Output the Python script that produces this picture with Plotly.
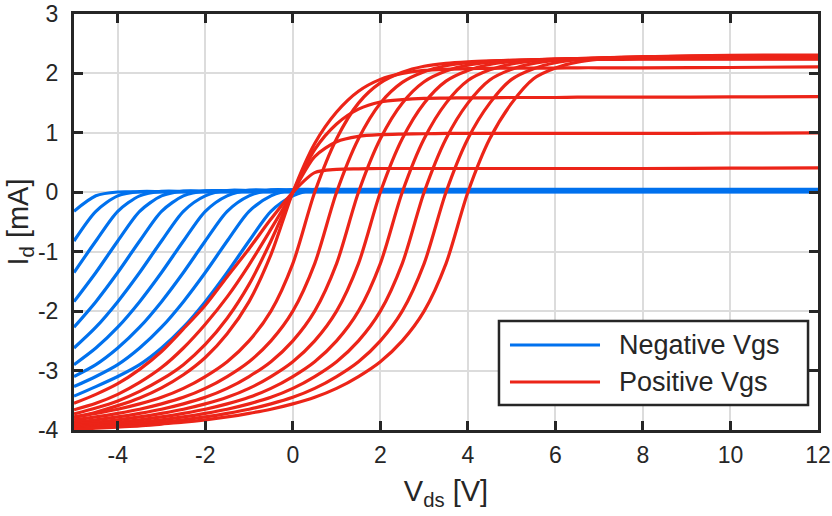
import plotly.graph_objects as go

# Drain voltage samples (V)
VDS_POS = [-5, -4.5, -4, -3.5, -3, -2.5, -2, -1.5, -1, -0.5, 0, 0.5, 1, 1.5, 2, 2.5,
           3, 3.5, 4, 4.5, 5, 5.5, 6, 6.5, 7, 7.5, 8, 10, 12]
VDS_NEG = [-5, -4.5, -4, -3.5, -3, -2.5, -2, -1.5, -1, -0.5, 0, 0.5, 1, 12]

# Drain current (mA) for the positive gate-voltage sweep
ID_POS_1 = [-3.55, -3.40, -3.22, -2.98, -2.68, -2.30, -1.90, -1.42, -0.95, -0.45, 0.00,
            0.33, 0.385, 0.395, 0.40, 0.40, 0.40, 0.40, 0.40, 0.40, 0.40, 0.40, 0.40,
            0.40, 0.40, 0.40, 0.40, 0.405, 0.41]
ID_POS_2 = [-3.66, -3.55, -3.40, -3.20, -2.95, -2.62, -2.22, -1.76, -1.22, -0.62, 0.00,
            0.60, 0.85, 0.94, 0.97, 0.98, 0.985, 0.99, 0.99, 0.99, 0.99, 0.99, 0.99,
            0.99, 0.99, 0.99, 0.99, 0.995, 1.0]
ID_POS_3 = [-3.73, -3.63, -3.51, -3.35, -3.15, -2.90, -2.56, -2.12, -1.55, -0.82, 0.00,
            0.72, 1.15, 1.40, 1.52, 1.56, 1.58, 1.585, 1.59, 1.59, 1.595, 1.595, 1.595,
            1.60, 1.60, 1.60, 1.60, 1.605, 1.61]
ID_POS_4 = [-3.79, -3.70, -3.59, -3.46, -3.29, -3.07, -2.78, -2.38, -1.84, -1.05, 0.00,
            0.82, 1.35, 1.70, 1.90, 2.00, 2.05, 2.07, 2.08, 2.085, 2.09, 2.09, 2.09,
            2.095, 2.095, 2.095, 2.095, 2.10, 2.11]
ID_POS_5 = [-3.78, -3.72, -3.65, -3.56, -3.45, -3.30, -3.10, -2.85, -2.50, -2.00, -1.20,
            0.00, 0.90, 1.50, 1.84, 2.02, 2.12, 2.17, 2.195, 2.21, 2.22, 2.228, 2.232,
            2.235, 2.237, 2.238, 2.24, 2.24, 2.24]
ID_POS_6 = [-3.83, -3.78, -3.72, -3.65, -3.56, -3.45, -3.30, -3.10, -2.85, -2.50, -2.00,
            -1.20, 0.00, 0.90, 1.50, 1.85, 2.03, 2.13, 2.18, 2.205, 2.22, 2.23, 2.238,
            2.242, 2.245, 2.247, 2.248, 2.25, 2.25]
ID_POS_7 = [-3.87, -3.83, -3.78, -3.72, -3.65, -3.56, -3.45, -3.30, -3.10, -2.85, -2.50,
            -2.00, -1.20, 0.00, 0.90, 1.50, 1.86, 2.04, 2.14, 2.19, 2.215, 2.23, 2.24,
            2.248, 2.252, 2.255, 2.257, 2.26, 2.26]
ID_POS_8 = [-3.90, -3.87, -3.83, -3.78, -3.72, -3.65, -3.56, -3.45, -3.30, -3.10, -2.85,
            -2.50, -2.00, -1.20, 0.00, 0.90, 1.50, 1.87, 2.05, 2.15, 2.20, 2.225, 2.24,
            2.25, 2.258, 2.262, 2.265, 2.27, 2.27]
ID_POS_9 = [-3.93, -3.90, -3.87, -3.83, -3.78, -3.72, -3.65, -3.56, -3.45, -3.30, -3.10,
            -2.85, -2.50, -2.00, -1.20, 0.00, 0.90, 1.50, 1.88, 2.06, 2.16, 2.21, 2.235,
            2.25, 2.26, 2.268, 2.272, 2.28, 2.28]
ID_POS_10 = [-3.95, -3.93, -3.90, -3.87, -3.83, -3.78, -3.72, -3.65, -3.56, -3.45, -3.30,
             -3.10, -2.85, -2.50, -2.00, -1.20, 0.00, 0.90, 1.50, 1.89, 2.07, 2.17, 2.22,
             2.245, 2.26, 2.27, 2.278, 2.29, 2.29]
ID_POS_11 = [-3.97, -3.95, -3.93, -3.90, -3.87, -3.83, -3.78, -3.72, -3.65, -3.56, -3.45,
             -3.30, -3.10, -2.85, -2.50, -2.00, -1.20, 0.00, 0.90, 1.50, 1.90, 2.08, 2.18,
             2.23, 2.255, 2.27, 2.28, 2.295, 2.30]
ID_POS_12 = [-3.99, -3.97, -3.95, -3.93, -3.90, -3.87, -3.83, -3.78, -3.72, -3.65, -3.56,
             -3.45, -3.30, -3.10, -2.85, -2.50, -2.00, -1.20, 0.00, 0.90, 1.50, 1.91, 2.09,
             2.19, 2.24, 2.265, 2.28, 2.305, 2.31]

# Drain current (mA) for the negative gate-voltage sweep
ID_NEG_1 = [-0.32, -0.06, 0.005, 0.005, 0.005, 0.005, 0.005, 0.005, 0.005, 0.005, 0.005,
            0.005, 0.005, 0.005]
ID_NEG_2 = [-0.82, -0.32, -0.06, 0.01, 0.01, 0.01, 0.01, 0.01, 0.01, 0.01, 0.01,
            0.01, 0.01, 0.01]
ID_NEG_3 = [-1.35, -0.82, -0.32, -0.06, 0.015, 0.015, 0.015, 0.015, 0.015, 0.015, 0.015,
            0.015, 0.015, 0.015]
ID_NEG_4 = [-1.84, -1.35, -0.82, -0.32, -0.06, 0.02, 0.02, 0.02, 0.02, 0.02, 0.02,
            0.02, 0.02, 0.02]
ID_NEG_5 = [-2.27, -1.84, -1.35, -0.82, -0.32, -0.06, 0.025, 0.025, 0.025, 0.025, 0.025,
            0.025, 0.025, 0.025]
ID_NEG_6 = [-2.62, -2.27, -1.84, -1.35, -0.82, -0.32, -0.06, 0.03, 0.03, 0.03, 0.03,
            0.03, 0.03, 0.03]
ID_NEG_7 = [-2.90, -2.62, -2.27, -1.84, -1.35, -0.82, -0.32, -0.06, 0.035, 0.035, 0.035,
            0.035, 0.035, 0.035]
ID_NEG_8 = [-3.10, -2.90, -2.62, -2.27, -1.84, -1.35, -0.82, -0.32, -0.06, 0.04, 0.04,
            0.04, 0.04, 0.04]
ID_NEG_9 = [-3.27, -3.10, -2.90, -2.62, -2.27, -1.84, -1.35, -0.82, -0.32, -0.06, 0.045,
            0.045, 0.045, 0.045]
ID_NEG_10 = [-3.43, -3.27, -3.10, -2.90, -2.62, -2.27, -1.84, -1.35, -0.82, -0.32, -0.06,
             0.05, 0.05, 0.05]

NEG_CURVES = [ID_NEG_1, ID_NEG_2, ID_NEG_3, ID_NEG_4, ID_NEG_5, ID_NEG_6, ID_NEG_7,
              ID_NEG_8, ID_NEG_9, ID_NEG_10]
POS_CURVES = [ID_POS_1, ID_POS_2, ID_POS_3, ID_POS_4, ID_POS_5, ID_POS_6, ID_POS_7,
              ID_POS_8, ID_POS_9, ID_POS_10, ID_POS_11, ID_POS_12]

X_TICKS = [-4, -2, 0, 2, 4, 6, 8, 10, 12]
Y_TICKS = [-4, -3, -2, -1, 0, 1, 2, 3]
LEGEND_LABELS = ["Negative Vgs", "Positive Vgs"]

BLUE = "rgb(0,113,238)"
RED = "rgb(236,36,24)"
INK = "#262626"
FONT = "Liberation Sans, Arial, sans-serif"
LW = 3.2

fig = go.Figure()

for ys in NEG_CURVES:
    fig.add_trace(go.Scatter(x=VDS_NEG, y=ys, mode="lines", showlegend=False,
                             line=dict(color=BLUE, width=LW, shape="spline", smoothing=0.8),
                             hoverinfo="skip"))
for ys in POS_CURVES:
    fig.add_trace(go.Scatter(x=VDS_POS, y=ys, mode="lines", showlegend=False,
                             line=dict(color=RED, width=LW, shape="spline", smoothing=0.8),
                             hoverinfo="skip"))

axis_common = dict(
    automargin=False,
    showline=True, linecolor=INK, linewidth=3, mirror="ticks",
    ticks="inside", ticklen=9, tickwidth=3, tickcolor=INK,
    showgrid=True, gridcolor="rgb(220,220,220)", gridwidth=2,
    zeroline=False,
    tickfont=dict(family=FONT, size=23, color=INK),
)

fig.update_xaxes(range=[-5, 12], tickmode="array", tickvals=X_TICKS,
                 ticktext=[str(v) for v in X_TICKS], ticklabelstandoff=2,
                 title=dict(text="V<sub>ds</sub> [V]", font=dict(family=FONT, size=29, color=INK),
                            standoff=15),
                 **axis_common)
fig.update_yaxes(range=[-4, 3], tickmode="array", tickvals=Y_TICKS,
                 ticktext=[str(v) for v in Y_TICKS], ticklabelstandoff=8,
                 title=dict(text="I<sub>d</sub> [mA]", font=dict(family=FONT, size=29, color=INK),
                            standoff=0),
                 **axis_common)

# Legend box drawn in paper coordinates
box = dict(x0=0.5712, x1=0.9866, y0=0.0601, y1=0.2620)
fig.add_shape(type="rect", xref="paper", yref="paper", layer="above",
              fillcolor="white", line=dict(color=INK, width=2.5), **box)
entry_y = [0.2043, 0.1154]
for label, color, yy in zip(LEGEND_LABELS, [BLUE, RED], entry_y):
    fig.add_shape(type="line", xref="paper", yref="paper", layer="above",
                  x0=0.586, x1=0.707, y0=yy, y1=yy, line=dict(color=color, width=LW))
    fig.add_annotation(xref="paper", yref="paper", x=0.730, y=yy, text=label,
                       showarrow=False, xanchor="left", yanchor="middle",
                       font=dict(family=FONT, size=27, color=INK))

fig.update_layout(
    width=832, height=516,
    margin=dict(l=74, r=14, t=14, b=86),
    paper_bgcolor="white", plot_bgcolor="white",
    showlegend=False,
)

fig.write_html("out.html")
